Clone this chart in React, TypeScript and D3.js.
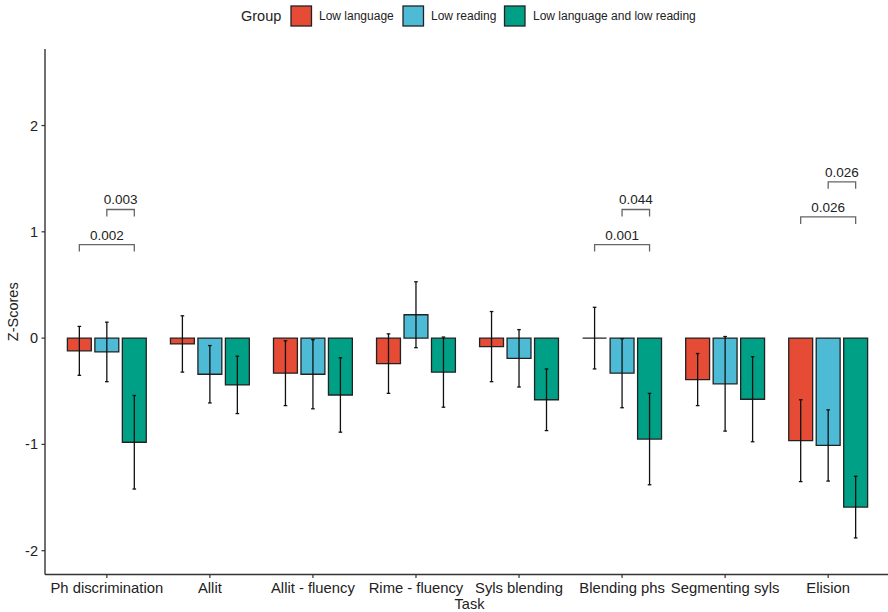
import * as d3 from "d3";

const tasks = [
  "Ph discrimination",
  "Allit",
  "Allit - fluency",
  "Rime - fluency",
  "Syls blending",
  "Blending phs",
  "Segmenting syls",
  "Elision",
];
const groups = ["Low language", "Low reading", "Low language and low reading"];
const colors = ["#E64B35", "#4DBBD5", "#00A087"];

const lowLanguage = [-0.12, -0.055, -0.33, -0.24, -0.08, 0.0, -0.39, -0.965];
const lowLanguageErr = [0.23, 0.265, 0.305, 0.28, 0.33, 0.29, 0.245, 0.385];
const lowReading = [-0.13, -0.34, -0.34, 0.22, -0.19, -0.33, -0.43, -1.01];
const lowReadingErr = [0.28, 0.27, 0.325, 0.31, 0.27, 0.325, 0.445, 0.335];
const lowBoth = [-0.98, -0.44, -0.535, -0.32, -0.58, -0.95, -0.575, -1.59];
const lowBothErr = [0.44, 0.27, 0.35, 0.33, 0.29, 0.43, 0.4, 0.29];

const yTicks = [-2, -1, 0, 1, 2];

// significance brackets: task, from group, to group, bracket level, label
const brackets = [
  { task: "Ph discrimination", from: 0, to: 2, y: 0.88, label: "0.002" },
  { task: "Ph discrimination", from: 1, to: 2, y: 1.21, label: "0.003" },
  { task: "Blending phs", from: 0, to: 2, y: 0.88, label: "0.001" },
  { task: "Blending phs", from: 1, to: 2, y: 1.21, label: "0.044" },
  { task: "Elision", from: 0, to: 2, y: 1.14, label: "0.026" },
  { task: "Elision", from: 1, to: 2, y: 1.47, label: "0.026" },
];

const means = [lowLanguage, lowReading, lowBoth];
const errs = [lowLanguageErr, lowReadingErr, lowBothErr];

const W = 888;
const H = 612;
const left = 45;
const right = 890;
const top = 49;
const bottom = 574.5;
const font = "'Liberation Sans', Arial, sans-serif";

export default function App() {
  const x = d3
    .scaleBand<string>()
    .domain(tasks)
    .range([left, right])
    .paddingInner(0)
    .paddingOuter(0.1);
  const step = x.step();
  const xg = d3
    .scaleBand<number>()
    .domain([0, 1, 2])
    .range([-0.4 * step, 0.4 * step])
    .paddingInner(0.13)
    .paddingOuter(0.065);
  const y = d3.scaleLinear().domain([-2.224, 2.72]).range([bottom, top]);

  const cx = (t: string) => (x(t) as number) + x.bandwidth() / 2;
  const gx = (t: string, g: number) => cx(t) + (xg(g) as number) + xg.bandwidth() / 2;
  const bw = xg.bandwidth();

  const bars = tasks.flatMap((t, i) =>
    groups.map((_, g) => ({ t, g, v: means[g][i], e: errs[g][i] }))
  );

  return (
    <svg
      width={W}
      height={H}
      style={{ position: "absolute", left: 0, top: 0 }}
      fontFamily={font}
    >
      <rect width={W} height={H} fill="#fff" />

      {/* legend */}
      <text x={241} y={21} fontSize={14.5} fill="#222">
        Group
      </text>
      {[
        { x0: 291, tx: 319 },
        { x0: 403, tx: 431 },
        { x0: 504.5, tx: 533 },
      ].map((k, g) => (
        <g key={g}>
          <rect
            x={k.x0}
            y={6}
            width={20.5}
            height={20}
            fill={colors[g]}
            stroke="#222"
            strokeWidth={1.3}
          />
          <text x={k.tx} y={20} fontSize={12} fill="#222">
            {groups[g]}
          </text>
        </g>
      ))}

      {/* bars (path so zero-height bars still show their outline) */}
      {bars.map((b) => {
        const x0 = gx(b.t, b.g) - bw / 2;
        return (
          <path
            key={b.t + b.g}
            d={`M${x0},${y(0)}H${x0 + bw}V${y(b.v)}H${x0}Z`}
            fill={colors[b.g]}
            stroke="#222"
            strokeWidth={1.3}
          />
        );
      })}

      {/* error bars */}
      {bars.map((b) => {
        const px = gx(b.t, b.g);
        const y1 = y(b.v + b.e);
        const y2 = y(b.v - b.e);
        return (
          <g key={"e" + b.t + b.g} stroke="#111" strokeWidth={1.3}>
            <line x1={px} x2={px} y1={y1} y2={y2} />
            <line x1={px - 1.8} x2={px + 1.8} y1={y1} y2={y1} />
            <line x1={px - 1.8} x2={px + 1.8} y1={y2} y2={y2} />
          </g>
        );
      })}

      {/* significance brackets */}
      {brackets.map((b, i) => {
        const x1 = gx(b.task, b.from);
        const x2 = gx(b.task, b.to);
        const yy = y(b.y);
        return (
          <g key={"b" + i}>
            <path
              d={`M${x1},${yy + 7}V${yy}H${x2}V${yy + 7}`}
              fill="none"
              stroke="#666"
              strokeWidth={1.3}
            />
            <text
              x={(x1 + x2) / 2}
              y={yy - 5}
              textAnchor="middle"
              fontSize={13.5}
              fill="#222"
            >
              {b.label}
            </text>
          </g>
        );
      })}

      {/* y axis */}
      <line x1={left} x2={left} y1={top} y2={bottom} stroke="#333" strokeWidth={1.4} />
      {yTicks.map((t) => (
        <g key={t}>
          <line x1={left - 3.5} x2={left} y1={y(t)} y2={y(t)} stroke="#333" strokeWidth={1.2} />
          <text
            x={left - 7}
            y={y(t)}
            dy="0.35em"
            textAnchor="end"
            fontSize={14.5}
            fill="#222"
          >
            {t}
          </text>
        </g>
      ))}
      <text
        transform={`translate(18,${(top + bottom) / 2}) rotate(-90)`}
        textAnchor="middle"
        fontSize={14.5}
        fill="#222"
      >
        Z-Scores
      </text>

      {/* x axis */}
      <line x1={left} x2={right} y1={bottom} y2={bottom} stroke="#333" strokeWidth={1.4} />
      {tasks.map((t) => (
        <g key={t}>
          <line x1={cx(t)} x2={cx(t)} y1={bottom} y2={bottom + 3.5} stroke="#333" strokeWidth={1.2} />
          <text x={cx(t)} y={bottom + 18} textAnchor="middle" fontSize={14.8} fill="#222">
            {t}
          </text>
        </g>
      ))}
      <text x={(left + right) / 2 + 2} y={609} textAnchor="middle" fontSize={14.5} fill="#222">
        Task
      </text>
    </svg>
  );
}
